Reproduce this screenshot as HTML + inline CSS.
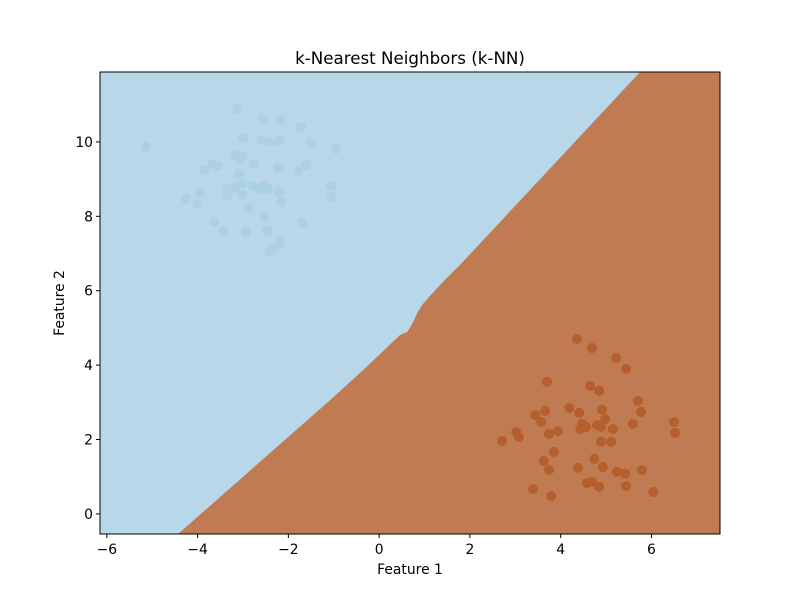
<!DOCTYPE html>
<html><head><meta charset="utf-8"><style>
body{margin:0;background:#fff;font-family:"DejaVu Sans",sans-serif}
svg text{font-family:"DejaVu Sans",sans-serif}
</style></head><body>
<svg id="c" width="800" height="600"></svg>
<script>
const blueX=[-3.13,-2.56,-2.16,-1.72,-3.00,-2.60,-2.42,-2.20,-1.50,-0.95,-5.15,-3.19,-3.06,-3.00,-2.75,-2.22,-1.78,-1.61,-3.68,-3.55,-3.85,-3.08,-3.35,-3.17,-3.02,-2.78,-2.64,-2.53,-2.44,-2.20,-3.35,-3.00,-2.16,-3.94,-4.25,-4.01,-1.06,-1.06,-2.86,-2.53,-1.70,-3.63,-3.44,-2.93,-2.47,-2.18,-2.31,-2.42];
const blueY=[10.89,10.62,10.59,10.40,10.11,10.05,10.00,10.03,9.97,9.81,9.87,9.65,9.54,9.60,9.41,9.30,9.22,9.38,9.41,9.35,9.25,9.14,8.74,8.76,8.87,8.82,8.74,8.82,8.74,8.66,8.55,8.58,8.39,8.63,8.47,8.33,8.82,8.52,8.23,7.98,7.82,7.85,7.63,7.58,7.61,7.29,7.12,7.04];
const brownX=[4.36,4.69,5.22,5.44,3.70,4.65,4.85,5.70,5.77,4.19,4.41,4.91,4.98,3.66,3.44,3.57,4.47,4.56,4.43,4.80,4.89,5.15,5.59,6.50,6.52,3.02,3.08,2.71,3.74,3.94,4.89,5.11,3.85,3.63,3.74,4.74,4.93,4.38,5.24,5.42,5.79,4.58,4.69,4.85,5.44,3.39,3.79,6.04];
const brownY=[4.70,4.46,4.19,3.90,3.55,3.44,3.31,3.04,2.74,2.85,2.72,2.80,2.55,2.77,2.66,2.47,2.42,2.34,2.28,2.39,2.34,2.28,2.42,2.47,2.18,2.20,2.07,1.96,2.15,2.23,1.94,1.94,1.67,1.42,1.18,1.48,1.26,1.24,1.13,1.08,1.18,0.83,0.86,0.73,0.75,0.67,0.48,0.59];
const boundX=[-4.43,-1.08,-0.35,0.46,0.62,0.75,0.84,0.95,1.12,1.45,1.78,5.75];
const boundY=[-0.54,3.06,3.87,4.81,4.89,5.16,5.40,5.62,5.86,6.29,6.69,11.88];
const xTicks=[-6,-4,-2,0,2,4,6];
const yTicks=[0,2,4,6,8,10];
const X0=100,X1=720,Y0=72,Y1=534,xmin=-6.15,xmax=7.51,ymin=-0.54,ymax=11.88;
const sx=v=>X0+(v-xmin)/(xmax-xmin)*(X1-X0);
const sy=v=>Y1-(v-ymin)/(ymax-ymin)*(Y1-Y0);
const svg=document.getElementById('c');const NS='http://www.w3.org/2000/svg';
function mk(t,a,p){const e=document.createElementNS(NS,t);for(const k in a)e.setAttribute(k,a[k]);(p||svg).appendChild(e);return e;}
let r=mk('rect',{x:X0,y:Y0,width:X1-X0,height:Y1-Y0,fill:'#b8d7e8'});


let pts=boundX.map((x,i)=>sx(x)+','+sy(boundY[i]));
pts.push(X1+','+Y0);pts.push(X1+','+Y1);
let poly=mk('polygon',{points:pts.join(' '),fill:'#c07b52'});


blueX.forEach((x,i)=>{const c=mk('circle',{cx:sx(x),cy:sy(blueY[i]),r:5,fill:'#abd1e3'});

});
brownX.forEach((x,i)=>{const c=mk('circle',{cx:sx(x),cy:sy(brownY[i]),r:5,fill:'#b55e2e'});

});
let fr=mk('rect',{x:X0,y:Y0,width:X1-X0,height:Y1-Y0,fill:'none',stroke:'#000','stroke-width':1});


xTicks.forEach(t=>{mk('line',{x1:sx(t),x2:sx(t),y1:Y1,y2:Y1+4,stroke:'#000'});
const tx=mk('text',{x:sx(t),y:Y1+20,'text-anchor':'middle','font-size':13.9});tx.textContent=t<0?'\u2212'+(-t):t;

});
yTicks.forEach(t=>{mk('line',{x1:X0-4,x2:X0,y1:sy(t),y2:sy(t),stroke:'#000'});
const tx=mk('text',{x:X0-7,y:sy(t)+5,'text-anchor':'end','font-size':13.9});tx.textContent=t;

});
let t=mk('text',{x:410,y:64,'text-anchor':'middle','font-size':16.7});t.textContent='k-Nearest Neighbors (k-NN)';


let xl=mk('text',{x:410,y:574,'text-anchor':'middle','font-size':13.9});xl.textContent='Feature 1';


let yl=mk('text',{x:64,y:303,'text-anchor':'middle','font-size':13.9,transform:'rotate(-90 64 303)'});yl.textContent='Feature 2';


</script>
</body></html>
